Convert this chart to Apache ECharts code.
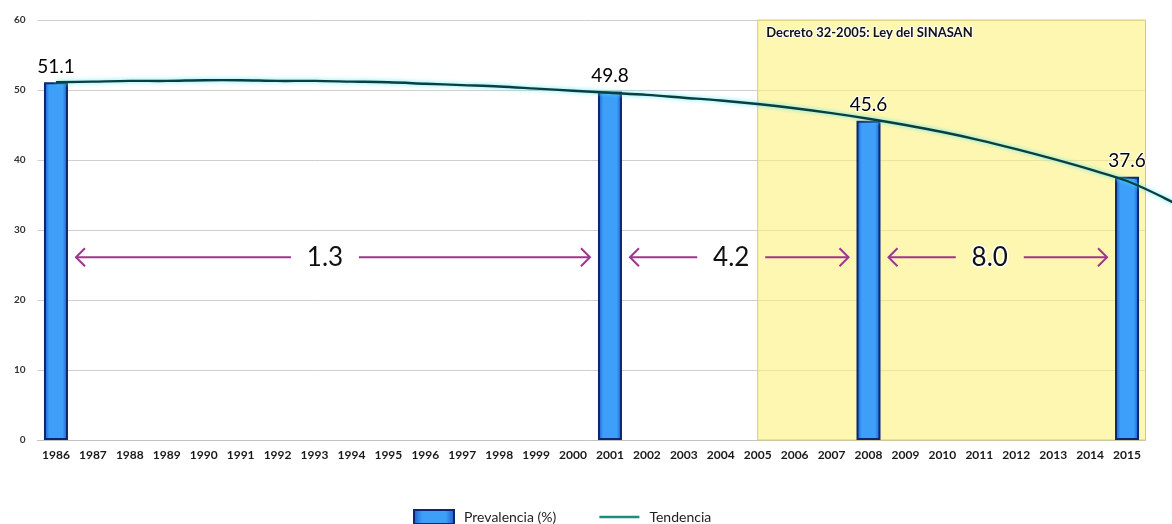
<!DOCTYPE html>
<html>
<head>
<meta charset="utf-8">
<script src="https://cdn.jsdelivr.net/npm/echarts@6/dist/echarts.min.js"></script>
<style>
html,body{margin:0;padding:0;background:#fff;}
#chart{width:1172px;height:524px;}
</style>
</head>
<body>
<div id="chart"></div>
<script>
// ---- data ----
var years = [1986,1987,1988,1989,1990,1991,1992,1993,1994,1995,1996,1997,1998,1999,2000,
             2001,2002,2003,2004,2005,2006,2007,2008,2009,2010,2011,2012,2013,2014,2015];
var surveyYears = [1986, 2001, 2008, 2015];
var prevalence = [51.1, 49.8, 45.6, 37.6];
// trend line, one value per year (last values: projection running past the axis edge)
var trendValues = [51.1,51.2,51.3,51.3,51.4,51.4,51.3,51.3,51.2,51.1,50.9,50.7,50.5,50.2,49.9,
                   49.6,49.3,48.9,48.5,48.0,47.4,46.7,45.9,45.0,44.0,42.85,41.55,40.15,38.65,37.0,
                   34.6,31.8];
var arrowFrom = [1986, 2001, 2008];
var arrowTo = [2001, 2008, 2015];
var arrowLabels = ['1.3', '4.2', '8.0'];
var arrowLevel = 26.1;
var shadeStartYear = 2005;
var shadeLabel = 'Decreto 32-2005: Ley del SINASAN';
var yTicks = [0, 10, 20, 30, 40, 50, 60];
var seriesNames = ['Prevalencia (%)', 'Tendencia'];

// ---- build ----
var barData = years.map(function (y) {
  var k = surveyYears.indexOf(y);
  return k >= 0 ? prevalence[k] : null;
});
var axisMax = years.length - 0.5;
var trendData = trendValues.map(function (v, i) { return [i, v]; });
var arrowData = arrowFrom.map(function (y, k) {
  return [years.indexOf(y), years.indexOf(arrowTo[k]), arrowLevel, k];
});

var FONT = 'Lato, "Open Sans", sans-serif';
var arrowColor = '#a0358f';
var trendColor = '#0a3f42';

var chart = echarts.init(document.getElementById('chart'));
chart.setOption({
  animation: false,
  backgroundColor: '#ffffff',
  textStyle: { fontFamily: FONT },
  grid: { left: 37.5, right: 26.5, top: 20, bottom: 84 },
  legend: {
    left: 408, top: 504,
    itemWidth: 40, itemHeight: 14, itemGap: 42,
    textStyle: { fontSize: 14, color: '#222', fontFamily: FONT, padding: [0, 0, 0, 5] },
    data: [
      { name: seriesNames[0], icon: 'rect' },
      { name: seriesNames[1], itemStyle: { opacity: 0 }, lineStyle: { color: '#17907f', width: 2.5 } }
    ]
  },
  xAxis: [{
    type: 'category',
    data: years,
    boundaryGap: true,
    axisLine: { show: true, lineStyle: { color: '#c4c4c4', width: 1 } },
    axisTick: { show: false },
    axisLabel: { interval: 0, fontSize: 12, fontWeight: 'bold', color: '#1a1a1a', margin: 9, fontFamily: FONT }
  }, {
    type: 'value',
    min: -0.5, max: axisMax,
    show: false
  }],
  yAxis: {
    type: 'value',
    min: yTicks[0], max: yTicks[yTicks.length - 1], interval: 10,
    axisLine: { show: false },
    axisTick: { show: false },
    splitLine: { lineStyle: { color: '#cfcfcf', width: 1 } },
    axisLabel: { fontSize: 10, fontWeight: 'bold', color: '#333', margin: 12, fontFamily: FONT }
  },
  series: [{
    name: 'shade',
    type: 'line',
    xAxisIndex: 1,
    data: [],
    silent: true,
    z: 1,
    markArea: {
      silent: true,
      itemStyle: { color: 'rgba(253,242,127,0.6)', borderColor: '#d6cc78', borderWidth: 1 },
      label: {
        show: true, position: [9, 7],
        fontSize: 13, fontWeight: 'bold', color: '#111', fontFamily: FONT,
        textBorderColor: '#fff', textBorderWidth: 2
      },
      data: [[
        { name: shadeLabel, coord: [years.indexOf(shadeStartYear), yTicks[0]] },
        { coord: [axisMax, yTicks[yTicks.length - 1]] }
      ]]
    }
  }, {
    name: seriesNames[0],
    type: 'bar',
    data: barData,
    barWidth: 24,
    z: 3,
    itemStyle: {
      color: new echarts.graphic.LinearGradient(0, 0, 1, 0, [
        { offset: 0, color: '#1d58c8' },
        { offset: 0.22, color: '#3d9ff8' },
        { offset: 0.78, color: '#3d9ff8' },
        { offset: 1, color: '#1d58c8' }
      ]),
      borderColor: '#0c2670',
      borderWidth: 2
    },
    label: {
      show: true, position: 'top', distance: 6,
      fontSize: 19, color: '#000', fontFamily: FONT,
      textBorderColor: '#fff', textBorderWidth: 2,
      formatter: function (p) { return p.value == null ? '' : p.value.toFixed(1); }
    }
  }, {
    // legend entry for the trend (drawn by the custom series below)
    name: seriesNames[1],
    type: 'line',
    xAxisIndex: 1,
    data: [],
    symbol: 'none',
    lineStyle: { color: trendColor },
    itemStyle: { color: '#17907f' }
  }, {
    name: 'trendDraw',
    type: 'custom',
    xAxisIndex: 1,
    data: trendData,
    encode: { x: 0, y: 1 },
    silent: true,
    clip: false,
    z: 4,
    renderItem: function (params, api) {
      if (params.dataIndex !== 0) { return null; }
      var pts = trendData.map(function (d) { return api.coord(d); });
      return {
        type: 'polyline',
        shape: { points: pts, smooth: 0.35 },
        style: {
          stroke: trendColor, lineWidth: 2.4, fill: null,
          shadowColor: 'rgba(80,230,240,0.95)', shadowBlur: 4
        }
      };
    }
  }, {
    name: 'arrows',
    type: 'custom',
    xAxisIndex: 1,
    data: arrowData,
    encode: { x: [0, 1], y: 2 },
    silent: true,
    z: 5,
    renderItem: function (params, api) {
      var p1 = api.coord([api.value(0), api.value(2)]);
      var p2 = api.coord([api.value(1), api.value(2)]);
      var k = api.value(3);
      var y = p1[1];
      var x1 = p1[0] + 20, x2 = p2[0] - 20;
      var cx = (x1 + x2) / 2 - 8;
      var gap = 34, h = 9, w = 9;
      var st = { stroke: arrowColor, lineWidth: 2, fill: null };
      return {
        type: 'group',
        children: [
          { type: 'line', shape: { x1: x1, y1: y, x2: cx - gap, y2: y }, style: st },
          { type: 'line', shape: { x1: cx + gap, y1: y, x2: x2, y2: y }, style: st },
          { type: 'polyline', shape: { points: [[x1 + w, y - h], [x1, y], [x1 + w, y + h]] }, style: st },
          { type: 'polyline', shape: { points: [[x2 - w, y - h], [x2, y], [x2 - w, y + h]] }, style: st },
          { type: 'text', x: cx, y: y, style: {
              text: arrowLabels[k], fontSize: 26, fontFamily: FONT, fill: '#111',
              stroke: '#fff', lineWidth: 3, align: 'center', verticalAlign: 'middle'
          } }
        ]
      };
    }
  }]
});
</script>
</body>
</html>
